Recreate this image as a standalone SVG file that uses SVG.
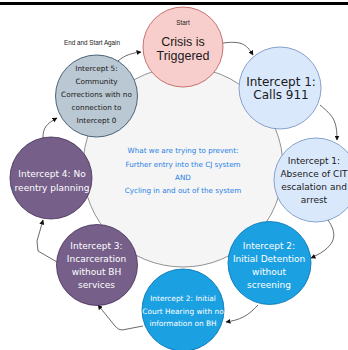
<svg xmlns="http://www.w3.org/2000/svg" width="348" height="350" viewBox="0 0 348 350">
<style>
.v{font-family:"DejaVu Sans",Verdana,sans-serif;text-anchor:middle}
.h{font-family:"Liberation Sans",Arial,sans-serif;text-anchor:middle}
.w{fill:#ffffff}
.d{fill:#1a1a1a}
.c{fill:none;stroke:#444444;stroke-width:0.8}
</style>
<defs>
<marker id="ah" viewBox="0 0 10 10" refX="9" refY="5" markerWidth="5" markerHeight="5" markerUnits="userSpaceOnUse" orient="auto">
<path d="M0,0 L10,5 L0,10 z" fill="#111111"/>
</marker>
</defs>
<rect x="0" y="2" width="348" height="3" fill="#000000"/>
<g id="background">
<circle cx="183" cy="167" r="100" fill="#f5f5f5" stroke="#777777" stroke-width="0.8"/>
<g class="v" font-size="7.2" fill="#1f7fe6">
<text x="183" y="153">What we are trying to prevent:</text>
<text x="183" y="166.5">Further entry into the CJ system</text>
<text x="183" y="180">AND</text>
<text x="183" y="193">Cycling in and out of the system</text>
</g>
</g>
<g id="connectors">
<path class="c" d="M223,43 C240,41 246,43 253,55" marker-end="url(#ah)"/>
<path class="c" d="M320,105 C333,116 337,120 337,140" marker-end="url(#ah)"/>
<path class="c" d="M328,220 C336,232 340,245 311,258" marker-end="url(#ah)"/>
<path class="c" d="M258,305 C248,316 240,320 226,322" marker-end="url(#ah)"/>
<path class="c" d="M143,326 L122,330 Q118,330 115,326 L98,305" marker-end="url(#ah)"/>
<path class="c" d="M57,262 L38,251 L37,241 L43,220" marker-end="url(#ah)"/>
<path class="c" d="M43,138 C43,128 46,124 57,118" marker-end="url(#ah)"/>
<path class="c" d="M118,61 C125,55 132,53 141,52" marker-end="url(#ah)"/>
<text class="h d" x="92" y="44.5" font-size="6.3">End and Start Again</text>
</g>
<g id="crisis">
<circle cx="183" cy="47" r="40" fill="#f8cecc" stroke="#b85450" stroke-width="0.8"/>
<text class="h d" x="183" y="25" font-size="6.3">Start</text>
<text class="h d" x="183" y="46" font-size="12.5">Crisis is</text>
<text class="h d" x="183" y="59.5" font-size="12.5">Triggered</text>
</g>
<g id="intercept1-calls">
<circle cx="280" cy="88" r="41" fill="#dae8fc" stroke="#6c8ebf" stroke-width="0.8"/>
<text class="v d" x="281" y="85.5" font-size="12">Intercept 1:</text>
<text class="v d" x="281" y="99" font-size="12">Calls 911</text>
</g>
<g id="intercept1-cit">
<circle cx="316" cy="180" r="42" fill="#dae8fc" stroke="#6c8ebf" stroke-width="0.8"/>
<g class="v d" font-size="9">
<text x="314" y="163.5">Intercept 1:</text>
<text x="314" y="176.5">Absence of CIT</text>
<text x="314" y="189.5">escalation and</text>
<text x="314" y="202.5">arrest</text>
</g>
</g>
<g id="intercept2-detention">
<circle cx="269.5" cy="263" r="41.5" fill="#1ba1e2" stroke="#006eaf" stroke-width="0.8"/>
<g class="v w" font-size="9">
<text x="269" y="249">Intercept 2:</text>
<text x="269" y="262">Initial Detention</text>
<text x="269" y="275">without</text>
<text x="269" y="288">screening</text>
</g>
</g>
<g id="intercept2-court">
<circle cx="183" cy="310" r="41" fill="#1ba1e2" stroke="#006eaf" stroke-width="0.8"/>
<g class="v w" font-size="7.4">
<text x="183" y="300.5">Intercept 2: Initial</text>
<text x="183" y="313.5">Court Hearing with no</text>
<text x="183" y="326">information on BH</text>
</g>
</g>
<g id="intercept3">
<circle cx="97" cy="265" r="40.5" fill="#76608a" stroke="#432d57" stroke-width="0.8"/>
<g class="v w" font-size="9">
<text x="96.5" y="249">Intercept 3:</text>
<text x="96.5" y="262">Incarceration</text>
<text x="96.5" y="275">without BH</text>
<text x="96.5" y="288">services</text>
</g>
</g>
<g id="intercept4">
<circle cx="51" cy="178" r="41" fill="#76608a" stroke="#432d57" stroke-width="0.8"/>
<g class="v w" font-size="9">
<text x="52" y="177">Intercept 4: No</text>
<text x="52" y="190.5">reentry planning</text>
</g>
</g>
<g id="intercept5">
<circle cx="96.5" cy="96" r="41" fill="#bac8d3" stroke="#23445d" stroke-width="0.8"/>
<g class="v d" font-size="7.3">
<text x="96.5" y="71">Intercept 5:</text>
<text x="96.5" y="84">Community</text>
<text x="96.5" y="96.7">Corrections with no</text>
<text x="96.5" y="110.3">connection to</text>
<text x="96.5" y="122.7">Intercept 0</text>
</g>
</g>
</svg>
